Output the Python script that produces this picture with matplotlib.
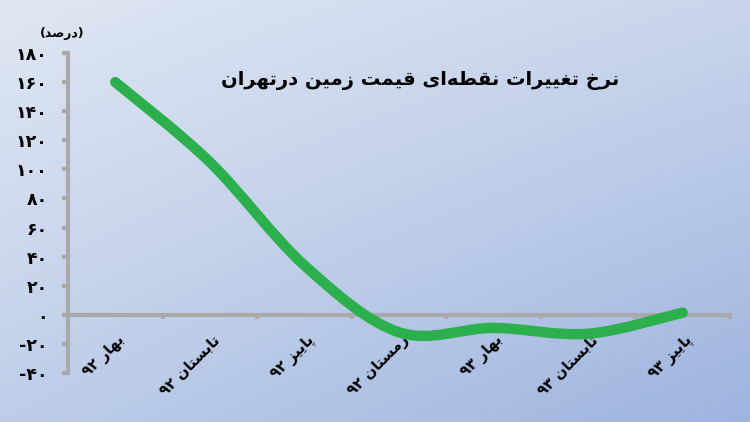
import numpy as np
import matplotlib
matplotlib.use("Agg")
import matplotlib.pyplot as plt
from matplotlib.path import Path
from matplotlib.patches import PathPatch

# ---------------- data ----------------
categories = ["بهار ۹۲", "تابستان ۹۲", "پاییز ۹۲", "زمستان ۹۲", "بهار ۹۳", "تابستان ۹۳", "پاییز ۹۳"]
values = [160, 105, 34, -12, -9, -13, 1.5]
y_ticks = [-40, -20, 0, 20, 40, 60, 80, 100, 120, 140, 160, 180]
y_tick_labels = ["-۴۰", "-۲۰", "۰", "۲۰", "۴۰", "۶۰", "۸۰", "۱۰۰", "۱۲۰", "۱۴۰", "۱۶۰", "۱۸۰"]
title = "نرخ تغییرات نقطه\u200cای قیمت زمین درتهران"
unit_label = "درصد"

# ---------------- simple Arabic/Persian shaping for matplotlib ----------------
FORMS = {
    'ا': ('\uFE8D', '\uFE8E', None, None),
    'د': ('\uFEA9', '\uFEAA', None, None),
    'ر': ('\uFEAD', '\uFEAE', None, None),
    'ز': ('\uFEAF', '\uFEB0', None, None),
    'ب': ('\uFE8F', '\uFE90', '\uFE91', '\uFE92'),
    'پ': ('\uFB56', '\uFB57', '\uFB58', '\uFB59'),
    'ت': ('\uFE95', '\uFE96', '\uFE97', '\uFE98'),
    'خ': ('\uFEA5', '\uFEA6', '\uFEA7', '\uFEA8'),
    'س': ('\uFEB1', '\uFEB2', '\uFEB3', '\uFEB4'),
    'ص': ('\uFEB9', '\uFEBA', '\uFEBB', '\uFEBC'),
    'ط': ('\uFEC1', '\uFEC2', '\uFEC3', '\uFEC4'),
    'غ': ('\uFECD', '\uFECE', '\uFECF', '\uFED0'),
    'ق': ('\uFED5', '\uFED6', '\uFED7', '\uFED8'),
    'م': ('\uFEE1', '\uFEE2', '\uFEE3', '\uFEE4'),
    'ن': ('\uFEE5', '\uFEE6', '\uFEE7', '\uFEE8'),
    'ه': ('\uFEE9', '\uFEEA', '\uFEEB', '\uFEEC'),
    'ی': ('\uFEEF', '\uFEF0', '\uFEF3', '\uFEF4'),
}
RIGHT_ONLY = set('اآدذرزژو')
DIGITS = set('۰۱۲۳۴۵۶۷۸۹0123456789')


def shape(s):
    chars = list(s)
    out = []
    for i, c in enumerate(chars):
        if c == '\u200c':
            continue
        if c not in FORMS:
            out.append(c)
            continue
        prev = chars[i - 1] if i > 0 else None
        nxt = chars[i + 1] if i + 1 < len(chars) else None
        jp = prev in FORMS and prev not in RIGHT_ONLY
        jn = (c not in RIGHT_ONLY) and (nxt in FORMS)
        iso, fin, ini, med = FORMS[c]
        if jp and jn:
            out.append(med)
        elif jp:
            out.append(fin)
        elif jn:
            out.append(ini)
        else:
            out.append(iso)
    # visual order: reverse runs, keep digit runs LTR
    runs = []
    for ch in out:
        isd = ch in DIGITS
        if runs and runs[-1][0] == isd:
            runs[-1][1].append(ch)
        else:
            runs.append((isd, [ch]))
    mirror = {'(': ')', ')': '('}
    vis = []
    for isd, rc in reversed(runs):
        if isd:
            vis.extend(rc)
        else:
            vis.extend(mirror.get(ch, ch) for ch in reversed(rc))
    return ''.join(vis)


# ---------------- figure ----------------
W, H = 750, 422
fig = plt.figure(figsize=(W / 100, H / 100), dpi=100)

# gradient background
bg = fig.add_axes([0, 0, 1, 1], zorder=-10)
tl = np.array([224, 231, 243]) / 255
tr = np.array([200, 213, 236]) / 255
bl = np.array([190, 206, 233]) / 255
br = np.array([158, 180, 223]) / 255
u = np.linspace(0, 1, 200)[None, :, None]
v = np.linspace(0, 1, 120)[:, None, None]
img = (1 - u) * (1 - v) * tl + u * (1 - v) * tr + (1 - u) * v * bl + u * v * br
bg.imshow(img, aspect='auto', extent=[0, 1, 0, 1], interpolation='bilinear')
bg.set_axis_off()

ax = fig.add_axes([68 / W, 49 / H, 662 / W, 320 / H])
ax.patch.set_alpha(0)
ax.set_xlim(-0.5, len(categories) - 0.5)
ax.set_ylim(-40, 180)

axis_col = '#a9a9ab'
for s in ['top', 'right']:
    ax.spines[s].set_visible(False)
ax.spines['bottom'].set_position(('data', 0))
for s in ['left', 'bottom']:
    ax.spines[s].set_color(axis_col)
    ax.spines[s].set_linewidth(3.0)

ax.set_yticks(y_ticks)
ax.set_yticklabels(y_tick_labels, fontsize=12.5, fontweight='bold', family='DejaVu Sans')
ax.tick_params(axis='y', direction='out', length=4.5, width=3.0, color=axis_col, pad=10)

ax.set_xticks(np.arange(len(categories)))
ax.set_xticklabels([])
ax.tick_params(axis='x', which='major', length=0)
ax.set_xticks(np.arange(len(categories)) + 0.5, minor=True)
ax.tick_params(axis='x', which='minor', direction='out', length=3, width=3.0, color='#b0a8ac')

# smooth line (Catmull-Rom / Bezier through data points)
xs = np.arange(len(values), dtype=float)
ys = np.array(values, dtype=float)
P = np.column_stack([xs, ys])
verts = [tuple(P[0])]
codes = [Path.MOVETO]
n = len(P)
for i in range(n - 1):
    p0 = P[i - 1] if i > 0 else P[i]
    p1 = P[i]
    p2 = P[i + 1]
    p3 = P[i + 2] if i + 2 < n else P[i + 1]
    c1 = p1 + (p2 - p0) / 6.0
    c2 = p2 - (p3 - p1) / 6.0
    verts += [tuple(c1), tuple(c2), tuple(p2)]
    codes += [Path.CURVE4] * 3
patch = PathPatch(Path(verts, codes), facecolor='none', edgecolor='#2cb04e',
                  linewidth=7.5, capstyle='round', joinstyle='round', zorder=5)
ax.add_patch(patch)

# category labels
for i, lab in enumerate(categories):
    ax.annotate(shape(lab), xy=(i, 0), xycoords='data',
                xytext=(2 * 0.72, -18 * 0.72), textcoords='offset points',
                rotation=45, rotation_mode='anchor', ha='right', va='top',
                fontsize=10.5, fontweight='bold', family='DejaVu Sans', color='black')

# title and unit
fig.text(420 / W, 1 - 81 / H, shape(title), ha='center', va='center',
         fontsize=14, fontweight='bold', family='DejaVu Sans', color='black')
fig.text(62 / W, 1 - 33 / H, '(' + shape(unit_label) + ')', ha='center', va='center',
         fontsize=9, fontweight='bold', family='DejaVu Sans', color='black')

fig.savefig('out.png', dpi=100)
